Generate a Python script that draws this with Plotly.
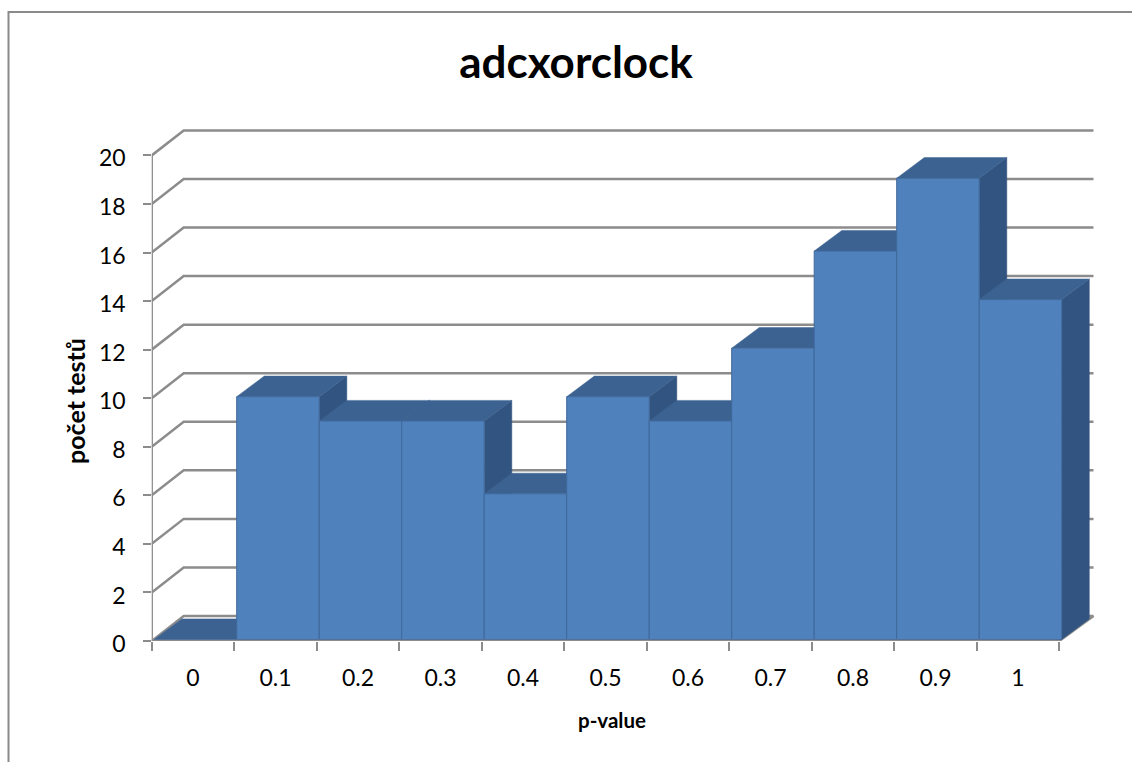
import plotly.graph_objects as go

# Histogram of p-values
categories = ["0", "0.1", "0.2", "0.3", "0.4", "0.5", "0.6", "0.7", "0.8", "0.9", "1"]
counts = [0, 10, 9, 9, 6, 10, 9, 12, 16, 19, 14]
y_ticks = list(range(0, 21, 2))

title_text = "adcxorclock"
x_title = "p-value"
y_title = "počet testů"

FONT = "Lato, Carlito, Calibri, sans-serif"
FRONT = "#4f81bd"
FRONT_EDGE = "#41699b"
TOP = "#3c6291"
SIDE = "#325480"
GREY = "#8c8c8c"

W, H = 1132, 762
CAT_PX, UNIT_PX = 82.5, 24.28      # pixels per category and per count
LEFT, ZERO = 151.7, 641.0          # pixel position of the axes origin

# Tick-and-title axes: their box is the front plane of the chart
AXIS_RIGHT, AXIS_TOP = 1072.3, 155.0
# Drawing axes: large enough to hold the oblique wall and the bar depth
BOX_RIGHT, BOX_TOP = 1110.0, 120.0
# Value labels sit a little below their tick marks
LABEL_DROP = 3.0

axis_x_span = (AXIS_RIGHT - LEFT) / CAT_PX
axis_y_span = (ZERO - AXIS_TOP) / UNIT_PX
axis_dom_x = [LEFT / W, AXIS_RIGHT / W]
axis_dom_y = [1 - ZERO / H, 1 - AXIS_TOP / H]
label_dom_y = [1 - (ZERO + LABEL_DROP) / H, 1 - (AXIS_TOP + LABEL_DROP) / H]

box_x_span = (BOX_RIGHT - LEFT) / CAT_PX
box_y_span = (ZERO - BOX_TOP) / UNIT_PX
box_dom_x = [LEFT / W, BOX_RIGHT / W]
box_dom_y = [1 - ZERO / H, 1 - BOX_TOP / H]

# The bars sit slightly inside the floor of the box
bar_shift_x = 2.5 / CAT_PX
bar_shift_y = 1.5 / UNIT_PX
bar_range_x = [-bar_shift_x, box_x_span - bar_shift_x]
bar_range_y = [-bar_shift_y, box_y_span - bar_shift_y]

# Oblique projection offsets for the back wall and for the bar depth
wall_dx, wall_dy = 32 / CAT_PX, 25 / UNIT_PX
wall_end = (1093.5 - LEFT) / CAT_PX
bar_dx, bar_dy = 27.6 / CAT_PX, 20.6 / UNIT_PX
n = len(categories)

fig = go.Figure()

# Vertical axis line carries the tick axes
fig.add_trace(go.Scatter(x=[0, 0], y=[0, y_ticks[-1]], mode="lines",
                         line=dict(color=GREY, width=2.5), hoverinfo="skip",
                         showlegend=False))

# Empty carrier for the axis holding the value labels and title
fig.add_trace(go.Scatter(x=[0], y=[0], mode="none", hoverinfo="skip",
                         showlegend=False, xaxis="x", yaxis="y6"))

# Wall gridlines: a diagonal from the front edge, then along the back wall
for t in y_ticks:
    fig.add_trace(go.Scatter(
        x=[0, wall_dx, wall_end],
        y=[t, t + wall_dy, t + wall_dy],
        mode="lines", line=dict(color=GREY, width=2.5), hoverinfo="skip",
        showlegend=False, xaxis="x2", yaxis="y2"))

# Floor diagonal on the right
fig.add_trace(go.Scatter(x=[n, wall_end], y=[0, wall_dy], mode="lines",
                         line=dict(color=GREY, width=2.5), hoverinfo="skip",
                         showlegend=False, xaxis="x2", yaxis="y2"))


def poly(xs, ys, color):
    fig.add_trace(go.Scatter(
        x=xs, y=ys, mode="lines", fill="toself", fillcolor=color,
        line=dict(color=color, width=0.5), hoverinfo="skip",
        showlegend=False, xaxis="x3", yaxis="y3"))


# Receding faces, left to right so each bar hides the side of its neighbour
for i, v in enumerate(counts):
    if v > 0:
        poly([i + 1, i + 1 + bar_dx, i + 1 + bar_dx, i + 1, i + 1],
             [0, bar_dy, v + bar_dy, v, 0], SIDE)
    poly([i, i + 1, i + 1 + bar_dx, i + bar_dx, i],
         [v, v, v + bar_dy, v + bar_dy, v], TOP)

# Front faces of the bars
fig.add_trace(go.Bar(
    x=[i + 0.5 for i in range(n)], y=counts, width=1,
    marker=dict(color=FRONT, line=dict(color=FRONT_EDGE, width=1)),
    hoverinfo="skip", showlegend=False, xaxis="x4", yaxis="y4"))

# Category axis line sits above the bar bases
fig.add_trace(go.Scatter(x=[0, n], y=[0, 0], mode="lines",
                         line=dict(color=GREY, width=2.5), hoverinfo="skip",
                         showlegend=False, xaxis="x5", yaxis="y5"))

hidden = dict(visible=False, fixedrange=True)

fig.update_layout(
    width=W, height=H, autosize=False,
    margin=dict(l=0, r=0, t=0, b=0, autoexpand=False),
    paper_bgcolor="white", plot_bgcolor="rgba(0,0,0,0)",
    font=dict(family=FONT, color="black"),
    showlegend=False, barmode="overlay",
    title=dict(text=f"<b>{title_text}</b>", x=576 / W, xanchor="center",
               y=1 - 63 / H, yanchor="middle",
               font=dict(family=FONT, size=44, color="black")),
    xaxis=dict(domain=axis_dom_x, range=[0, axis_x_span], showgrid=False, zeroline=False,
               showline=False, tickmode="array", automargin=False,
               tickvals=[i + 0.5 for i in range(n)], ticktext=categories,
               ticks="", tickfont=dict(size=23, color="black"), ticklabelstandoff=21,
               minor=dict(tickmode="array", tickvals=list(range(n + 1)),
                          ticks="outside", ticklen=9, tickwidth=2, tickcolor=GREY),
               title=dict(text=f"<b>{x_title}</b>", font=dict(size=20.5), standoff=23),
               fixedrange=True),
    # Tick marks only
    yaxis=dict(domain=axis_dom_y, range=[0, axis_y_span], showgrid=False, zeroline=False,
               showline=False, tickmode="array", tickvals=y_ticks, automargin=False,
               ticks="outside", ticklen=8, tickwidth=2, tickcolor=GREY,
               showticklabels=False, fixedrange=True),
    # Value labels and axis title
    yaxis6=dict(domain=label_dom_y, range=[0, axis_y_span], showgrid=False, zeroline=False,
                showline=False, tickmode="array", tickvals=y_ticks, automargin=False,
                anchor="x", ticktext=[str(t) for t in y_ticks], ticks="",
                tickfont=dict(size=23, color="black"), ticklabelstandoff=25,
                title=dict(text=f"<b>{y_title}</b>", font=dict(size=25), standoff=6),
                fixedrange=True),
    xaxis2=dict(hidden, domain=box_dom_x, range=[0, box_x_span], anchor="y2"),
    yaxis2=dict(hidden, domain=box_dom_y, range=[0, box_y_span], anchor="x2"),
    xaxis3=dict(hidden, domain=box_dom_x, range=bar_range_x, anchor="y3"),
    yaxis3=dict(hidden, domain=box_dom_y, range=bar_range_y, anchor="x3"),
    xaxis4=dict(hidden, domain=box_dom_x, range=bar_range_x, anchor="y4"),
    yaxis4=dict(hidden, domain=box_dom_y, range=bar_range_y, anchor="x4"),
    xaxis5=dict(hidden, domain=box_dom_x, range=[0, box_x_span], anchor="y5"),
    yaxis5=dict(hidden, domain=box_dom_y, range=[0, box_y_span], anchor="x5"),
    # Chart frame, open towards the right and bottom of the page
    shapes=[dict(type="path", xref="paper", yref="paper",
                 path=f"M {8.5 / W} 0 L {8.5 / W} {1 - 12 / H} L 1 {1 - 12 / H}",
                 line=dict(color="#8a8a8a", width=2))],
)

fig.write_html("out.html", config={"displayModeBar": False})
